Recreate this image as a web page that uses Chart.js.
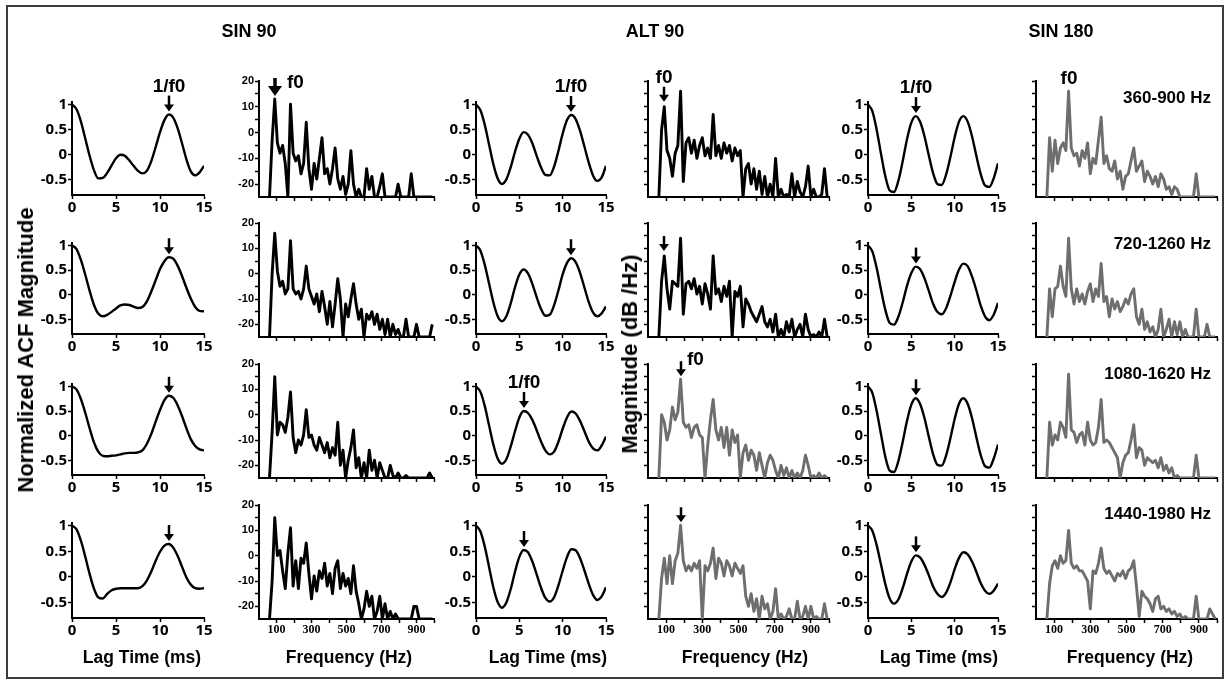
<!DOCTYPE html>
<html>
<head>
<meta charset="utf-8">
<script src="https://cdn.jsdelivr.net/npm/chart.js@4.4.1/dist/chart.umd.min.js"></script>
<style>
  body { margin: 0; background: #fff; }
  #fig { position: relative; width: 1229px; height: 681px; overflow: hidden;
         font-family: "Liberation Sans", Arial, sans-serif; font-weight: bold; color: #000; }
  #frame { position: absolute; left: 6px; top: 5px; width: 1214px; height: 670px; border: 2px solid #3c3c3c; }
  canvas { position: absolute; }
  .lbl { position: absolute; white-space: nowrap; transform: translate(-50%, -50%); font-size: 18px; }
  .axt { font-size: 17.5px; }
  .rot { font-size: 22px; transform: translate(-50%, -50%) rotate(-90deg); }
  .band { position: absolute; white-space: nowrap; transform: translate(-100%, -50%); font-size: 17px; }
</style>
</head>
<body>
<div id="fig"><div id="frame"></div></div>
<script>
// ---- data ----
const stimuli = ['SIN 90', 'ALT 90', 'SIN 180'];
const bands = ['360-900 Hz', '720-1260 Hz', '1080-1620 Hz', '1440-1980 Hz'];

const lagMs = [0, 0.5, 1, 1.5, 2, 2.5, 3, 3.5, 4, 4.5, 5, 5.5, 6, 6.5, 7, 7.5, 8, 8.5, 9, 9.5, 10, 10.5, 11, 11.5, 12, 12.5, 13, 13.5, 14, 14.5, 15];
const acfTickX = [0, 5, 10, 15];
const acfTickY = [1, 0.5, 0, -0.5];

// normalized ACF, one row per band
const acfSin90 = [
  [1, 0.91, 0.67, 0.33, -0.02, -0.31, -0.47, -0.46, -0.36, -0.21, -0.07, 0.0, -0.02, -0.11, -0.22, -0.32, -0.37, -0.32, -0.13, 0.15, 0.45, 0.69, 0.80, 0.74, 0.53, 0.23, -0.09, -0.33, -0.41, -0.35, -0.22],
  [1, 0.93, 0.71, 0.41, 0.08, -0.21, -0.39, -0.44, -0.41, -0.35, -0.28, -0.22, -0.20, -0.21, -0.245, -0.27, -0.25, -0.14, 0.06, 0.29, 0.52, 0.68, 0.76, 0.73, 0.59, 0.38, 0.14, -0.08, -0.25, -0.33, -0.34],
  [1, 0.94, 0.75, 0.47, 0.15, -0.14, -0.33, -0.41, -0.42, -0.41, -0.40, -0.38, -0.36, -0.35, -0.35, -0.34, -0.30, -0.17, 0.03, 0.28, 0.52, 0.72, 0.81, 0.77, 0.62, 0.40, 0.15, -0.07, -0.21, -0.28, -0.30],
  [1, 0.93, 0.71, 0.40, 0.06, -0.23, -0.40, -0.42, -0.33, -0.26, -0.23, -0.22, -0.22, -0.22, -0.22, -0.22, -0.18, -0.07, 0.10, 0.31, 0.49, 0.61, 0.64, 0.57, 0.41, 0.20, -0.01, -0.15, -0.22, -0.23, -0.22]
];
const acfAlt90 = [
  [1, 0.89, 0.605, 0.21, -0.185, -0.47, -0.58, -0.49, -0.25, 0.06, 0.32, 0.45, 0.40, 0.23, -0.02, -0.25, -0.40, -0.41, -0.24, 0.07, 0.42, 0.69, 0.79, 0.71, 0.48, 0.17, -0.15, -0.41, -0.52, -0.45, -0.22],
  [1, 0.90, 0.615, 0.23, -0.155, -0.44, -0.54, -0.44, -0.18, 0.15, 0.41, 0.51, 0.43, 0.22, -0.05, -0.29, -0.43, -0.41, -0.22, 0.08, 0.41, 0.645, 0.74, 0.66, 0.445, 0.15, -0.145, -0.36, -0.44, -0.38, -0.24],
  [1, 0.895, 0.61, 0.215, -0.18, -0.465, -0.57, -0.48, -0.225, 0.09, 0.37, 0.50, 0.46, 0.32, 0.11, -0.12, -0.30, -0.38, -0.33, -0.13, 0.14, 0.37, 0.49, 0.45, 0.30, 0.095, -0.12, -0.26, -0.30, -0.20, -0.02],
  [1, 0.89, 0.6, 0.2, -0.2, -0.49, -0.6, -0.50, -0.24, 0.10, 0.39, 0.525, 0.48, 0.30, 0.05, -0.21, -0.41, -0.48, -0.40, -0.17, 0.12, 0.385, 0.54, 0.52, 0.37, 0.13, -0.13, -0.35, -0.45, -0.38, -0.2]
];
const acfSin180 = [
  [1, 0.87, 0.50, 0.02, -0.43, -0.71, -0.74, -0.52, -0.13, 0.31, 0.64, 0.77, 0.66, 0.38, 0.0, -0.36, -0.58, -0.60, -0.40, -0.05, 0.35, 0.66, 0.77, 0.66, 0.37, -0.02, -0.38, -0.61, -0.64, -0.47, -0.17],
  [1, 0.88, 0.54, 0.10, -0.31, -0.575, -0.61, -0.45, -0.16, 0.18, 0.44, 0.57, 0.52, 0.34, 0.085, -0.18, -0.35, -0.40, -0.28, -0.03, 0.26, 0.51, 0.63, 0.58, 0.37, 0.09, -0.22, -0.44, -0.52, -0.41, -0.17],
  [1, 0.87, 0.50, 0.03, -0.43, -0.71, -0.74, -0.52, -0.13, 0.30, 0.63, 0.76, 0.65, 0.37, -0.01, -0.37, -0.59, -0.61, -0.41, -0.06, 0.34, 0.65, 0.76, 0.65, 0.36, -0.03, -0.39, -0.62, -0.65, -0.47, -0.18],
  [1, 0.90, 0.62, 0.24, -0.14, -0.42, -0.52, -0.44, -0.22, 0.06, 0.30, 0.42, 0.38, 0.24, 0.04, -0.18, -0.33, -0.39, -0.31, -0.11, 0.15, 0.37, 0.48, 0.44, 0.30, 0.10, -0.12, -0.27, -0.33, -0.27, -0.13]
];
// lag of the marked ACF peak (1/f0) per band
const peakLagSin90 = [11, 11, 11, 11];
const peakLagAlt90 = [11, 11, 5.5, 5.5];
const peakLagSin180 = [5.5, 5.5, 5.5, 5.5];

const freqHz = [60, 75, 90, 105, 120, 135, 150, 165, 180, 195, 210, 225, 240, 255, 270, 285, 300, 315, 330, 345, 360, 375, 390, 405, 420, 435, 450, 465, 480, 495, 510, 525, 540, 555, 570, 585, 600, 615, 630, 645, 660, 675, 690, 705, 720, 735, 750, 765, 780, 795, 810, 825, 840, 855, 870, 885, 900, 915, 930, 945, 960, 975, 990];
const specTickX = [100, 200, 300, 400, 500, 600, 700, 800, 900, 1000];
const specLabelX = [100, 300, 500, 700, 900];
const specTickY = [20, 15, 10, 5, 0, -5, -10, -15, -20];
const specLabelY = [20, 10, 0, -10, -20];

// magnitude spectra (dB/Hz), one row per band
const specSin90 = [
  [-25, -3, 13, -4, -8, -5, -12, -25, 11, -8, -11, -9, -16, -12, 4, -14, -22, -12, -18, -10, -2, -16, -14, -20, -14, -6, -18, -22, -17, -24, -20, -7, -20, -25, -22, -25, -25, -14, -22, -17, -25, -25, -21, -16, -25, -25, -25, -25, -25, -20, -25, -25, -25, -25, -16, -25, -25, -25, -25, -25, -25, -25, -25],
  [-25, 0, 16, 1, -5, -3, -8, -6, 13, -6, -8, -7, -10, -6, 3, -6, -9, -12, -8, -15, -7, -13, -20, -11, -21, -12, -2, -10, -25, -12, -17, -10, -4, -12, -18, -14, -25, -16, -18, -15, -20, -16, -22, -18, -24, -18, -25, -20, -24, -22, -25, -25, -18, -25, -25, -25, -20, -25, -25, -25, -25, -25, -20],
  [-25, -7, 15, -8, -3, -4, -7, -1, 9, -9, -15, -10, -12, -8, 2, -9, -8, -12, -14, -9, -12, -15, -11, -17, -13, -16, -3, -20, -14, -25, -18, -13, -6, -21, -17, -25, -19, -25, -14, -22, -18, -25, -19, -22, -25, -25, -20, -24, -25, -23, -25, -25, -24, -25, -25, -25, -25, -25, -25, -25, -25, -23, -25],
  [-25, -10, 15, 0, 2, -6, -13, 1, 11, -12, -2, -13, -1, -3, 5, -7, -17, -8, -14, -6, -9, -3, -12, -7, -15, -5, -2, -13, -7, -12, -9, -15, -4, -14, -19, -25, -21, -14, -20, -16, -25, -22, -16, -25, -19, -25, -22, -25, -23, -25, -25, -25, -25, -25, -25, -20, -20, -25, -25, -25, -25, -25, -25]
];
const specAlt90 = [
  [-25, 1, 10, -7, -10, -17, -8, -5, 16, -19, -4, -2, -8, -3, -10, -5, -2, -9, -6, -10, 7, -9, -5, -10, -4, -8, -5, -11, -6, -9, -7, -25, -14, -12, -20, -14, -22, -15, -24, -17, -25, -20, -25, -10, -25, -22, -25, -24, -25, -16, -25, -19, -23, -25, -21, -13, -25, -22, -25, -25, -24, -14, -25],
  [-25, -3, 7, -6, -14, -3, -4, -5, 14, -16, -4, -3, -6, -2, -8, -5, -12, -4, -8, -14, 7, -8, -6, -11, -5, -9, -3, -25, -7, -9, -5, -21, -10, -12, -15, -17, -19, -16, -13, -19, -21, -18, -23, -16, -25, -22, -25, -19, -23, -18, -25, -22, -20, -25, -16, -22, -25, -24, -25, -23, -25, -18, -25],
  [-25, 0, -3, -10, -6, 3, -2, 1, 14, -3, -5, -4, -9, -5, -4, -8, -9, -25, -12, -2, 6, -6, -10, -5, -13, -5, -16, -6, -11, -8, -25, -15, -12, -18, -14, -16, -22, -15, -20, -25, -19, -16, -18, -22, -25, -20, -24, -21, -25, -22, -25, -23, -25, -22, -16, -20, -25, -24, -25, -23, -25, -24, -25],
  [-25, -9, -1, -11, 0, -11, -2, 1, 12, -2, -6, -4, -6, -3, -5, -2, -25, -4, -6, -3, 3, -9, -1, -3, -8, -2, -4, -8, -3, -5, -7, -4, -16, -20, -15, -22, -17, -25, -16, -21, -19, -25, -22, -13, -25, -23, -25, -24, -21, -25, -25, -18, -25, -24, -20, -25, -20, -25, -24, -25, -25, -19, -25]
];
const specSin180 = [
  [-25, -2, -15, -3, -12, -6, -4, -7, 16, -6, -9, -8, -13, -7, -10, -4, -16, -10, -12, -3, 6, -12, -9, -14, -15, -11, -18, -15, -22, -17, -16, -11, -6, -15, -13, -11, -19, -15, -17, -20, -17, -21, -16, -18, -22, -21, -24, -21, -22, -25, -25, -25, -25, -25, -25, -16, -25, -25, -25, -25, -25, -25, -25],
  [-25, -6, -17, -6, -5, 3, -5, -9, 14, -6, -12, -6, -11, -8, -12, -7, -4, -11, -6, -9, 4, -11, -9, -17, -10, -14, -11, -15, -13, -10, -12, -8, -6, -17, -20, -14, -22, -19, -23, -21, -25, -22, -14, -25, -22, -18, -25, -19, -24, -19, -25, -22, -25, -25, -25, -14, -25, -25, -25, -20, -25, -25, -25],
  [-25, -3, -12, -8, -10, -3, -5, -9, 16, -6, -7, -11, -8, -7, -12, -3, -10, -12, -11, -5, 6, -11, -10, -11, -13, -15, -17, -25, -19, -16, -15, -10, -4, -17, -13, -14, -20, -17, -18, -19, -18, -21, -17, -22, -20, -23, -21, -25, -24, -25, -25, -25, -25, -25, -25, -16, -25, -25, -25, -25, -25, -25, -25],
  [-25, -11, -4, -2, -5, 0, -3, -2, 10, -3, -5, -4, -6, -6, -8, -10, -21, -6, -7, -3, 3, -5, -7, -6, -8, -10, -7, -8, -6, -9, -6, -5, -2, -12, -24, -14, -16, -17, -19, -22, -17, -16, -21, -20, -22, -21, -23, -22, -24, -23, -25, -24, -25, -25, -25, -16, -25, -25, -25, -25, -21, -23, -25]
];

// ---- layout (pixel boxes of each plot area) ----
const fig = document.getElementById('fig');
const PAD = { l: 56, r: 16, t: 40, b: 34 };
const acfRows = [[102, 195], [243, 334], [384, 475], [523, 618]];
const specRows = [[81, 197], [223, 337], [364, 478], [505, 619]];

const BLACK = '#000';
const GRAY = '#6e6e6e';
const tickFontAcf = { family: '"Open Sans", "Liberation Sans", sans-serif', weight: 'bold', size: 15 };
const tickFontSpecY = { family: '"Liberation Sans", Arial, sans-serif', weight: 'bold', size: 11 };
const tickFontSpecX = { family: '"Liberation Serif", serif', weight: 'bold', size: 12 };

// arrow (and optional label) over a marked peak
function peakMarker(mark) {
  return {
    id: 'peakMarker',
    afterDatasetsDraw(chart) {
      if (!mark) return;
      const { ctx, scales } = chart;
      const pt = chart.data.datasets[0].data.find(p => p.x === mark.at);
      const px = Math.round(scales.x.getPixelForValue(pt.x));
      const tip = scales.y.getPixelForValue(pt.y) - (mark.gap || 3);
      const len = mark.len || 16;
      ctx.save();
      ctx.fillStyle = BLACK;
      ctx.strokeStyle = BLACK;
      if (mark.arrow !== false) {
        const hw = mark.big ? 7 : 5, hh = mark.big ? 10 : 7;
        ctx.lineWidth = mark.big ? 3.5 : 2.5;
        ctx.beginPath();
        ctx.moveTo(px, tip - len);
        ctx.lineTo(px, tip - hh + 1);
        ctx.stroke();
        ctx.beginPath();
        ctx.moveTo(px - hw, tip - hh);
        ctx.lineTo(px + hw, tip - hh);
        ctx.lineTo(px, tip);
        ctx.closePath();
        ctx.fill();
      }
      if (mark.label) {
        ctx.font = 'bold 19px "Liberation Sans", Arial, sans-serif';
        const top = mark.arrow === false ? tip : tip - len;
        if (mark.side === 'right') {
          ctx.textAlign = 'left';
          ctx.textBaseline = 'middle';
          ctx.fillText(mark.label, px + (mark.big ? 12 : 6), top + (mark.dy || 0));
        } else {
          ctx.textAlign = 'center';
          ctx.textBaseline = 'alphabetic';
          ctx.fillText(mark.label, px, top - 4);
        }
      }
      ctx.restore();
    }
  };
}

function axisStyle(tickLen) {
  return {
    grid: { drawOnChartArea: false, drawTicks: true, tickLength: tickLen, tickWidth: 1.5, tickColor: BLACK },
    border: { display: true, color: BLACK, width: 2 }
  };
}

function addPanel(x0, x1, y0, y1, cfg) {
  const cv = document.createElement('canvas');
  cv.width = x1 - x0 + PAD.l + PAD.r;
  cv.height = y1 - y0 + PAD.t + PAD.b;
  cv.style.left = (x0 - PAD.l) + 'px';
  cv.style.top = (y0 - PAD.t) + 'px';
  fig.appendChild(cv);

  const pts = cfg.xs.map((x, i) => ({ x, y: cfg.ys[i] }));
  new Chart(cv, {
    type: 'line',
    data: {
      datasets: [{
        data: pts,
        borderColor: cfg.color,
        borderWidth: cfg.width,
        borderJoinStyle: 'round',
        pointRadius: 0,
        fill: false,
        tension: 0,
        cubicInterpolationMode: cfg.smooth ? 'monotone' : 'default'
      }]
    },
    options: {
      responsive: false,
      animation: false,
      events: [],
      layout: { padding: { left: 0, right: PAD.r, top: PAD.t, bottom: 0 } },
      plugins: { legend: { display: false }, tooltip: { enabled: false } },
      scales: {
        x: {
          type: 'linear', min: cfg.xMin, max: cfg.xMax,
          ...axisStyle(4),
          afterFit: s => { s.height = PAD.b; },
          afterBuildTicks: s => { s.ticks = cfg.tickX.map(v => ({ value: v })); },
          ticks: {
            autoSkip: false, maxRotation: 0, padding: 0, color: BLACK, font: cfg.fontX,
            callback: v => (cfg.labelX && cfg.labelX.includes(v) ? String(v) : '')
          }
        },
        y: {
          type: 'linear', min: cfg.yMin, max: cfg.yMax,
          ...axisStyle(4),
          afterFit: s => { s.width = PAD.l; },
          afterBuildTicks: s => { s.ticks = cfg.tickY.map(v => ({ value: v })); },
          ticks: {
            autoSkip: false, padding: 1, color: BLACK, font: cfg.fontY,
            callback: v => (cfg.labelY && cfg.labelY.includes(v) ? String(v) : '')
          }
        }
      }
    },
    plugins: [peakMarker(cfg.mark)]
  });
}

// ---- ACF columns ----
const acfCols = [
  { x: [72, 204], series: acfSin90, peaks: peakLagSin90, labelRow: 0 },
  { x: [476, 606], series: acfAlt90, peaks: peakLagAlt90, labelRow: [0, 2] },
  { x: [868, 998], series: acfSin180, peaks: peakLagSin180, labelRow: 0 }
];
acfCols.forEach(col => {
  col.series.forEach((vals, r) => {
    const labelled = [].concat(col.labelRow).includes(r);
    addPanel(col.x[0], col.x[1], acfRows[r][0], acfRows[r][1], {
      xs: lagMs, ys: vals, color: BLACK, width: 2.4, smooth: true,
      xMin: 0, xMax: 15, yMin: -0.8, yMax: 1.05,
      tickX: acfTickX, labelX: acfTickX, tickY: acfTickY, labelY: acfTickY,
      fontX: tickFontAcf, fontY: tickFontAcf,
      mark: { at: col.peaks[r], label: labelled ? '1/f0' : null, len: 16 }
    });
  });
});

// ---- spectrum columns ----
const specCols = [
  { x: [259, 434], series: specSin90, gray: [false, false, false, false], yLabels: true,
    marks: [{ at: 90, label: 'f0', side: 'right', big: true, len: 18, dy: 5 }, null, null, null] },
  { x: [648, 829], series: specAlt90, gray: [false, false, true, true], yLabels: false,
    marks: [{ at: 90, label: 'f0', len: 15, gap: 5 }, { at: 90, len: 15, gap: 5 },
            { at: 180, label: 'f0', side: 'right', len: 15, dy: -1 }, { at: 180, len: 15 }] },
  { x: [1036, 1217], series: specSin180, gray: [true, true, true, true], yLabels: false,
    marks: [{ at: 180, label: 'f0', arrow: false, gap: 0 }, null, null, null] }
];
specCols.forEach(col => {
  col.series.forEach((vals, r) => {
    addPanel(col.x[0], col.x[1], specRows[r][0], specRows[r][1], {
      xs: freqHz, ys: vals, color: col.gray[r] ? GRAY : BLACK, width: 2.9, smooth: false,
      xMin: 0, xMax: 1000, yMin: -25, yMax: 20,
      tickX: specTickX, labelX: r === 3 ? specLabelX : null,
      tickY: specTickY, labelY: col.yLabels ? specLabelY : null,
      fontX: tickFontSpecX, fontY: tickFontSpecY,
      mark: col.marks[r]
    });
  });
});

// ---- text ----
function addText(text, x, y, cls) {
  const d = document.createElement('div');
  d.className = cls;
  d.textContent = text;
  d.style.left = x + 'px';
  d.style.top = y + 'px';
  fig.appendChild(d);
}
[249, 655, 1061].forEach((x, i) => addText(stimuli[i], x, 31, 'lbl'));
[142, 548, 939].forEach(x => addText('Lag Time (ms)', x, 657, 'lbl axt'));
[349, 745, 1130].forEach(x => addText('Frequency (Hz)', x, 657, 'lbl axt'));
addText('Normalized ACF Magnitude', 26, 350, 'lbl rot');
addText('Magnitude (dB /Hz)', 630, 354, 'lbl rot');
[98, 244, 374, 514].forEach((y, i) => addText(bands[i], 1211, y, 'band'));
</script>
</body>
</html>
